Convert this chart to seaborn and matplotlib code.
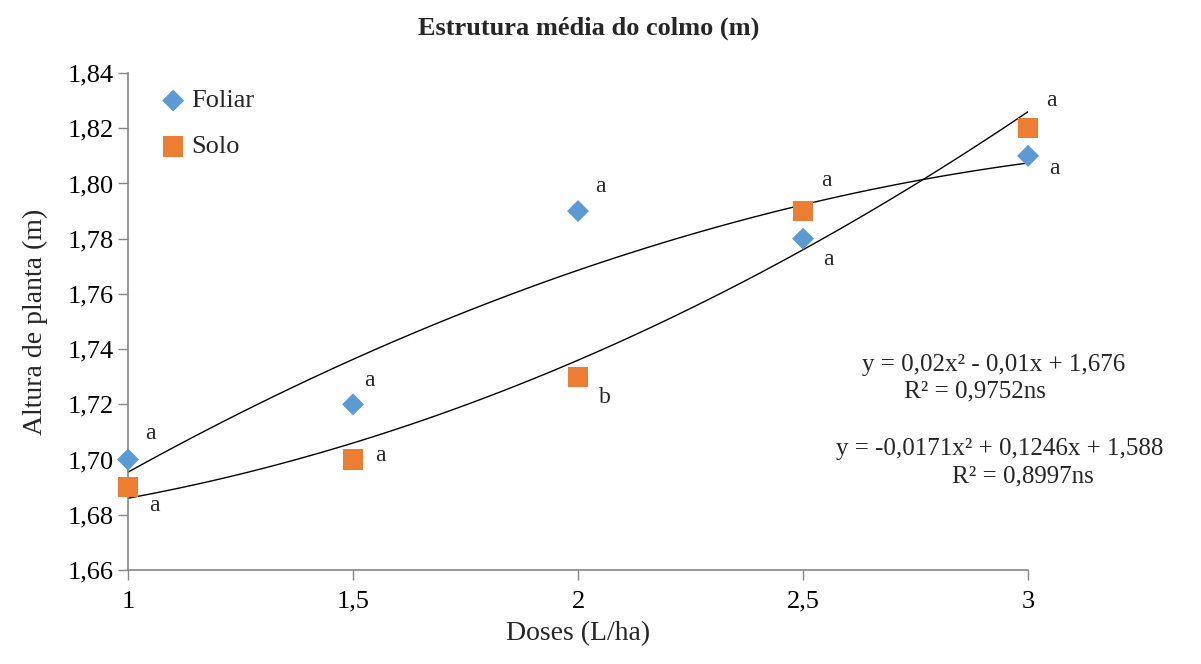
import numpy as np
import pandas as pd
import matplotlib.pyplot as plt
import seaborn as sns

sns.set_style('white')
plt.rcParams['font.family'] = ['Liberation Serif', 'DejaVu Serif']

# dados
doses = [1, 1.5, 2, 2.5, 3]
foliar = [1.70, 1.72, 1.79, 1.78, 1.81]
solo = [1.69, 1.70, 1.73, 1.79, 1.82]
letras_foliar = ['a', 'a', 'a', 'a', 'a']
letras_solo = ['a', 'a', 'b', 'a', 'a']
yticks = [1.66, 1.68, 1.70, 1.72, 1.74, 1.76, 1.78, 1.80, 1.82, 1.84]
xticks = [1, 1.5, 2, 2.5, 3]

df = pd.DataFrame({'Doses': doses, 'Foliar': foliar, 'Solo': solo})

fig = plt.figure(figsize=(12.01, 6.64), dpi=100)
ax = fig.add_axes([0.1066, 0.1416, 0.7494, 0.7484])

# linhas de tendencia (polinomial ordem 2)
for col in ['Foliar', 'Solo']:
    sns.regplot(data=df, x='Doses', y=col, order=2, ci=None, scatter=False,
                truncate=True, color='black', line_kws={'lw': 1.0}, ax=ax)

sns.scatterplot(data=df, x='Doses', y='Foliar', marker='D', s=125, color='#5B9BD5',
                edgecolor='none', label='Foliar', ax=ax, clip_on=False, zorder=3)
sns.scatterplot(data=df, x='Doses', y='Solo', marker='s', s=210, color='#ED7D31',
                edgecolor='none', label='Solo', ax=ax, clip_on=False, zorder=3)

# letras
off_f = [(16, 19), (12, 17), (16, 18), (18, -15), (19, -9)]
off_s = [(19, -13), (20, 3), (19, -15), (17, 22), (17, 20)]
for x, y, l, o in zip(doses, foliar, letras_foliar, off_f):
    ax.annotate(l, (x, y), xytext=o, textcoords='offset points', fontsize=17,
                ha='center', va='center', annotation_clip=False)
for x, y, l, o in zip(doses, solo, letras_solo, off_s):
    ax.annotate(l, (x, y), xytext=o, textcoords='offset points', fontsize=17,
                ha='center', va='center', annotation_clip=False)

ax.set_xlim(1, 3)
ax.set_ylim(1.66, 1.84)
ax.set_xticks(xticks)
ax.set_xticklabels([str(v).replace('.', ',') if v != int(v) else str(int(v)) for v in xticks])
ax.set_yticks(yticks)
ax.set_yticklabels([f'{v:.2f}'.replace('.', ',') for v in yticks])
ax.tick_params(axis='both', labelsize=19, colors='#868686', labelcolor='black',
               length=7, width=1, direction='out', left=True, bottom=True)
ax.tick_params(axis='x', pad=8)
for s in ['top', 'right']:
    ax.spines[s].set_visible(False)
for s in ['left', 'bottom']:
    ax.spines[s].set_color('#868686')
    ax.spines[s].set_linewidth(1.2)

ax.set_xlabel('Doses (L/ha)', fontsize=20, labelpad=6)
ax.set_ylabel('Altura de planta (m)', fontsize=20, labelpad=14)
fig.text(0.49, 0.957, 'Estrutura média do colmo (m)', fontsize=19, fontweight='bold',
         ha='center', va='center')

ax.legend(loc='upper left', bbox_to_anchor=(0.015, 1.005), frameon=False, fontsize=19,
          handlelength=1.0, handletextpad=0.2, labelspacing=0.85, borderaxespad=0.3)

# equacoes
fig.text(994 / 1201, 1 - 365 / 664, 'y = 0,02x² - 0,01x + 1,676', fontsize=18, ha='center', va='center')
fig.text(975 / 1201, 1 - 391 / 664, 'R² = 0,9752ns', fontsize=18, ha='center', va='center')
fig.text(1000 / 1201, 1 - 449 / 664, 'y = -0,0171x² + 0,1246x + 1,588', fontsize=18, ha='center', va='center')
fig.text(1023 / 1201, 1 - 476 / 664, 'R² = 0,8997ns', fontsize=18, ha='center', va='center')

plt.savefig('out.png', dpi=100)
